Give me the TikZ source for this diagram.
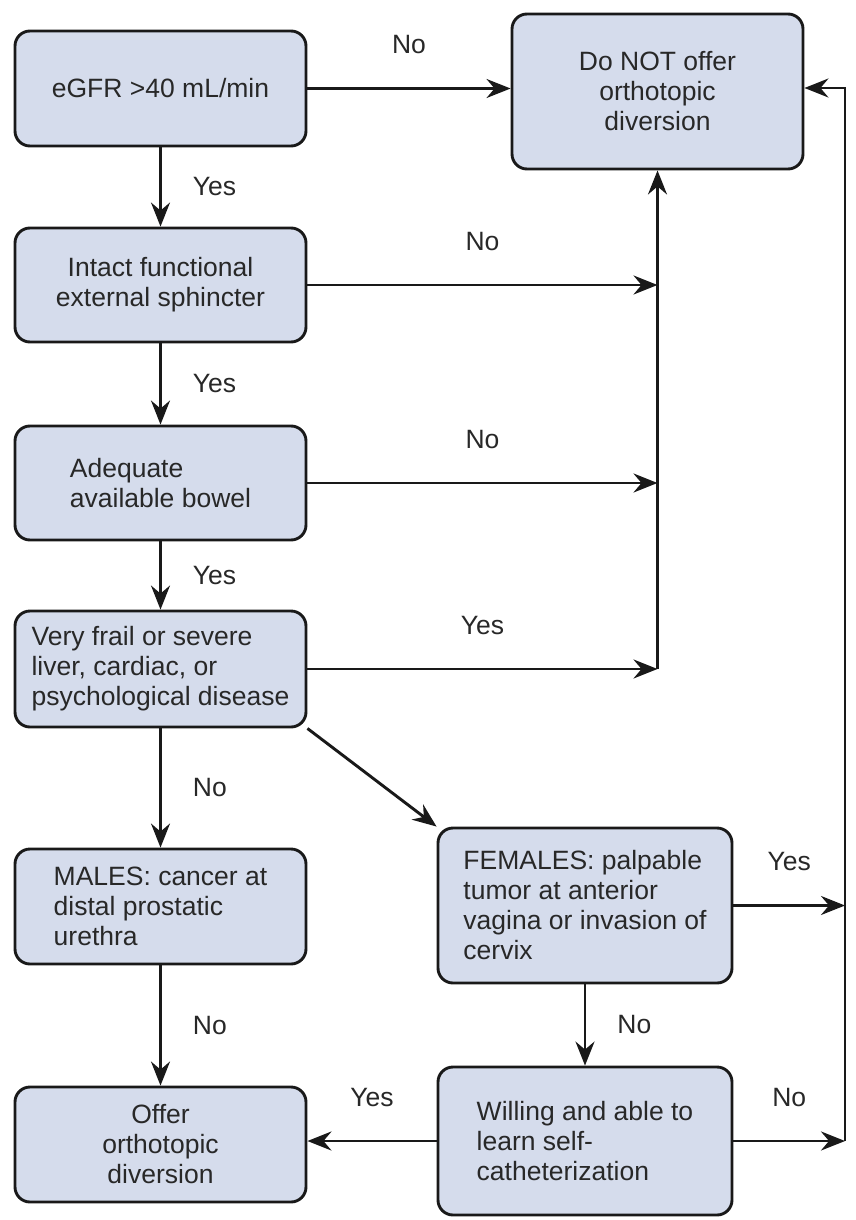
\documentclass[tikz,border=0pt]{standalone}
\usepackage{fontspec}
\setmainfont{Liberation Sans}
\usetikzlibrary{arrows.meta}
\definecolor{boxfill}{RGB}{213,220,236}
\definecolor{ink}{RGB}{25,25,25}
\definecolor{txt}{RGB}{40,40,40}
\begin{document}
\begin{tikzpicture}[x=1pt,y=-1pt,
  box/.style={draw=ink, line width=2.9pt, rounded corners=15pt, fill=boxfill,
    inner sep=0pt, text=txt, align=center, font=\fontsize{26.5}{30}\selectfont},
  lbox/.style={box, align=left},
  conn/.style={draw=ink, line width=2.9pt, -{Stealth[length=24pt,width=19pt,inset=8pt]}},
  lbl/.style={text=txt, inner sep=0pt, font=\fontsize{26.5}{30}\selectfont}]
\useasboundingbox (0,0) rectangle (856,1220);

% boxes
\node[box, minimum width=291pt, minimum height=115pt] (e1) at (160.5,88.5) {eGFR >40 mL/min};
\node[box, minimum width=291pt, minimum height=114pt] (e2) at (160.5,285) {Intact functional\\external sphincter};
\node[lbox, minimum width=291pt, minimum height=114pt] (e3) at (160.5,483) {Adequate\\available bowel};
\node[lbox, minimum width=291pt, minimum height=116pt] (e4) at (160.5,669) {Very frail or severe\\liver, cardiac, or\\psychological disease};
\node[lbox, minimum width=291pt, minimum height=115pt] (m) at (160.5,906.5) {MALES: cancer at\\distal prostatic\\urethra};
\node[box, minimum width=291pt, minimum height=115pt] (off) at (160.5,1144.5) {Offer\\orthotopic\\diversion};
\node[box, minimum width=291pt, minimum height=155pt] (dn) at (657.5,91.5) {Do NOT offer\\orthotopic\\diversion};
\node[lbox, minimum width=294pt, minimum height=155pt] (f) at (585,905.5) {FEMALES: palpable\\tumor at anterior\\vagina or invasion of\\cervix};
\node[lbox, minimum width=294pt, minimum height=148pt] (w) at (585,1141) {Willing and able to\\learn self-\\catheterization};

\coordinate (xr) at (845,88);

% left column
\draw[conn] (e1.east) -- node[lbl, midway, above=33pt] {No} (e1.east -| dn.west);
\draw[conn] (e1.south) -- node[lbl, midway, right=31pt] {Yes} (e2.north);
\draw[conn] (e2.south) -- node[lbl, midway, right=31pt] {Yes} (e3.north);
\draw[conn] (e3.south) -- node[lbl, midway, right=31pt] {Yes} (e4.north);
\draw[conn] (e4.south) -- node[lbl, midway, right=31pt] {No} (m.north);
\draw[conn] (m.south) -- node[lbl, midway, right=31pt] {No} (off.north);

% collector to Do NOT
\draw[conn] (e2.east) -- node[lbl, midway, above=33pt] {No} (e2.east -| dn.south);
\draw[conn] (e3.east) -- node[lbl, midway, above=33pt] {No} (e3.east -| dn.south);
\draw[conn] (e4.east) -- node[lbl, midway, above=33pt] {Yes} (e4.east -| dn.south);
\draw[conn] (e4.east -| dn.south) -- (dn.south);

% females branch
\draw[conn] (e4.south east) -- (f.north west);
\draw[conn] (f.east) -- node[lbl, midway, above=33pt] {Yes} (f.east -| xr);
\draw[conn] (f.south) -- node[lbl, midway, right=31pt] {No} (w.north);
\draw[conn] (w.west) -- node[lbl, midway, above=33pt] {Yes} (w.west -| off.east);
\draw[conn] (w.east) -- node[lbl, midway, above=33pt] {No} (w.east -| xr);
\draw[conn] (w.east -| xr) -- (xr) -- (dn.east |- xr);
\end{tikzpicture}
\end{document}
